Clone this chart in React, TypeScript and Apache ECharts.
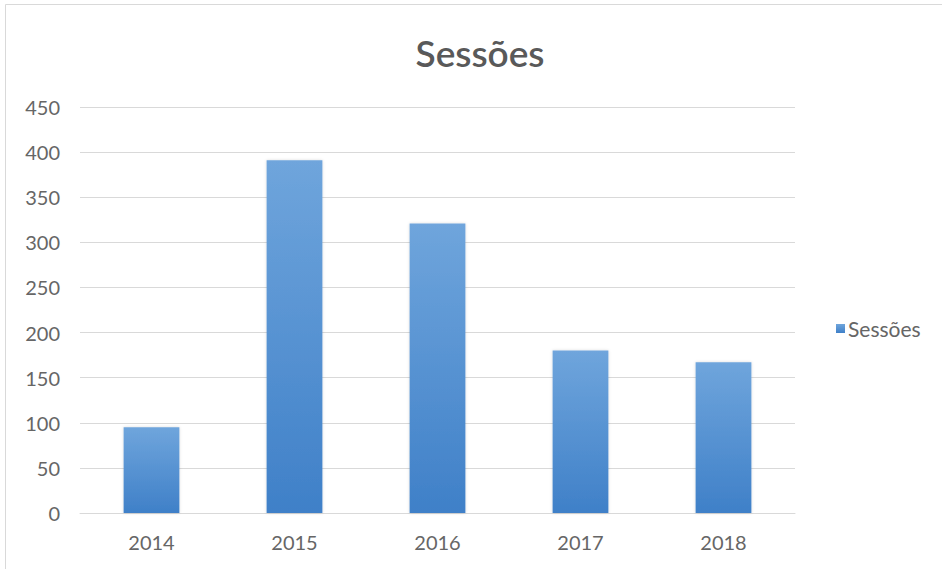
import React, { useEffect, useRef } from "react";
import * as echarts from "echarts";

const categories = ["2014", "2015", "2016", "2017", "2018"];
const sessoes = [95, 391, 321, 180, 167];
const seriesName = "Sessões";
const titleText = "Sessões";

export default function App() {
  const ref = useRef<HTMLDivElement>(null);
  useEffect(() => {
    if (!ref.current) return;
    const chart = echarts.init(ref.current, undefined, { renderer: "svg" });
    const font = "Lato, 'Open Sans', sans-serif";
    chart.setOption({
      animation: false,
      backgroundColor: "#ffffff",
      title: {
        text: titleText,
        left: 475,
        top: 29,
        textAlign: "center",
        textStyle: { fontFamily: font, fontSize: 37, fontWeight: 600, color: "#595959" },
      },
      legend: {
        data: [seriesName],
        orient: "vertical",
        left: 831,
        top: 313,
        itemWidth: 9,
        itemHeight: 9,
        itemGap: 4,
        icon: "rect",
        textStyle: { fontFamily: font, fontSize: 21, fontWeight: 400, color: "#666666", padding: [0, 0, 0, -2] },
      },
      grid: { left: 80, right: 147, top: 107, bottom: 56, containLabel: false },
      xAxis: {
        type: "category",
        data: categories,
        axisLine: { lineStyle: { color: "#d9d9d9" } },
        axisTick: { show: false },
        axisLabel: { fontFamily: font, fontSize: 20, fontWeight: 400, color: "#666666", margin: 19 },
      },
      yAxis: {
        type: "value",
        min: 0,
        max: 450,
        interval: 50,
        axisLine: { show: false },
        axisTick: { show: false },
        splitLine: { lineStyle: { color: "#d9d9d9", width: 1 } },
        axisLabel: { fontFamily: font, fontSize: 20, fontWeight: 400, color: "#666666", margin: 20 },
      },
      series: [
        {
          name: seriesName,
          type: "bar",
          data: sessoes,
          barWidth: "39%",
          itemStyle: {
            color: new echarts.graphic.LinearGradient(0, 0, 0, 1, [
              { offset: 0, color: "#6fa5dc" },
              { offset: 1, color: "#3f80c8" },
            ]),
            shadowColor: "rgba(0,0,0,0.15)",
            shadowBlur: 3,
          },
        },
      ],
      graphic: [
        {
          type: "rect",
          shape: { x: 5.5, y: 4.5, width: 960, height: 600 },
          style: { fill: "none", stroke: "#d9d9d9", lineWidth: 1 },
          silent: true,
        },
      ],
    });
    return () => chart.dispose();
  }, []);
  return (
    <div
      ref={ref}
      style={{ position: "fixed", left: 0, top: 0, width: 942, height: 569 }}
    />
  );
}
